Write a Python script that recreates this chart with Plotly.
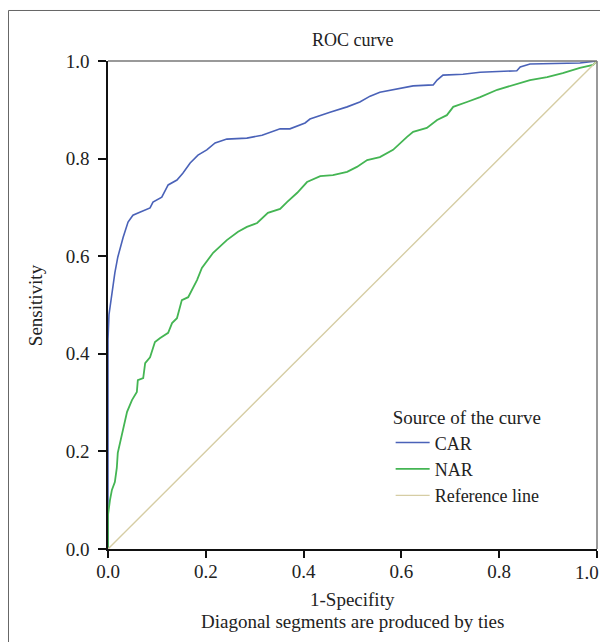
import plotly.graph_objects as go

# ---- data ----
car_fpr = [0.0, 0.0, 0.002, 0.006, 0.014, 0.020, 0.031, 0.041, 0.051, 0.065, 0.086, 0.092,
           0.110, 0.123, 0.141, 0.153, 0.168, 0.184, 0.202, 0.219, 0.243, 0.284, 0.315,
           0.352, 0.372, 0.403, 0.413, 0.454, 0.489, 0.515, 0.536, 0.556, 0.591, 0.624,
           0.665, 0.673, 0.685, 0.726, 0.761, 0.836, 0.843, 0.863, 0.965, 0.986, 1.0]
car_tpr = [0.0, 0.43, 0.48, 0.51, 0.566, 0.598, 0.639, 0.670, 0.684, 0.690, 0.699, 0.711,
           0.721, 0.746, 0.756, 0.770, 0.791, 0.807, 0.818, 0.832, 0.840, 0.842, 0.848,
           0.861, 0.861, 0.873, 0.881, 0.895, 0.906, 0.916, 0.928, 0.936, 0.943, 0.949,
           0.951, 0.961, 0.971, 0.973, 0.977, 0.980, 0.988, 0.994, 0.996, 0.998, 1.0]

nar_fpr = [0.0, 0.0, 0.004, 0.008, 0.014, 0.018, 0.020, 0.029, 0.039, 0.049, 0.059, 0.061,
           0.072, 0.076, 0.086, 0.096, 0.106, 0.123, 0.131, 0.141, 0.151, 0.164, 0.172,
           0.182, 0.192, 0.215, 0.243, 0.266, 0.284, 0.305, 0.327, 0.352, 0.366, 0.387,
           0.407, 0.434, 0.460, 0.489, 0.509, 0.530, 0.556, 0.583, 0.611, 0.624, 0.652,
           0.673, 0.693, 0.706, 0.734, 0.761, 0.796, 0.828, 0.863, 0.898, 0.930, 0.965,
           0.992, 1.0]
nar_tpr = [0.0, 0.07, 0.10, 0.121, 0.137, 0.166, 0.197, 0.238, 0.281, 0.305, 0.322, 0.346,
           0.350, 0.381, 0.393, 0.424, 0.432, 0.443, 0.463, 0.473, 0.510, 0.516, 0.531,
           0.551, 0.576, 0.607, 0.633, 0.650, 0.660, 0.668, 0.689, 0.697, 0.711, 0.730,
           0.752, 0.764, 0.766, 0.773, 0.783, 0.797, 0.803, 0.818, 0.844, 0.855, 0.863,
           0.879, 0.889, 0.906, 0.916, 0.926, 0.941, 0.951, 0.961, 0.967, 0.975, 0.986,
           0.992, 1.0]

ref_x = [0.0, 1.0]
ref_y = [0.0, 1.0]

tick_vals = [0.0, 0.2, 0.4, 0.6, 0.8, 1.0]
tick_text = ["0.0", "0.2", "0.4", "0.6", "0.8", "1.0"]

FONT = "Liberation Serif, Times New Roman, serif"
TXT = "#222222"
FS = 19

fig = go.Figure()
fig.add_trace(go.Scatter(x=car_fpr, y=car_tpr, mode="lines", name="CAR",
                         line=dict(color="#4a62b8", width=1.6)))
fig.add_trace(go.Scatter(x=nar_fpr, y=nar_tpr, mode="lines", name="NAR",
                         line=dict(color="#44b553", width=1.8)))
fig.add_trace(go.Scatter(x=ref_x, y=ref_y, mode="lines", name="Reference line",
                         line=dict(color="#d6cda4", width=1.4)))

# x tick labels: last one is placed as an annotation so it is not clipped at the edge
x_tick_text = tick_text[:-1] + [""]

fig.update_layout(
    width=600, height=634,
    margin=dict(l=100, r=11, t=53, b=93, autoexpand=False),
    paper_bgcolor="white", plot_bgcolor="white",
    font=dict(family=FONT, size=FS, color=TXT),
    showlegend=True,
    legend=dict(
        x=0.578, y=0.306, xanchor="left", yanchor="top",
        title=dict(text="Source of the curve", font=dict(size=FS, family=FONT, color=TXT)),
        font=dict(size=18, family=FONT, color=TXT),
        bgcolor="rgba(0,0,0,0)", itemwidth=34, tracegroupgap=0,
    ),
    xaxis=dict(range=[0, 1], tickvals=tick_vals, ticktext=x_tick_text,
               showgrid=False, zeroline=False, showline=True, linecolor="#111",
               linewidth=1.5, ticks="outside", ticklen=7, tickcolor="#111",
               tickwidth=1.5, tickfont=dict(size=FS), fixedrange=True,
               ticklabelstandoff=-3, automargin=False),
    yaxis=dict(range=[0, 1], tickvals=tick_vals, ticktext=tick_text,
               showgrid=False, zeroline=False, showline=True, linecolor="#111",
               linewidth=1.5, ticks="outside", ticklen=8, tickcolor="#111",
               tickwidth=1.5, tickfont=dict(size=FS), fixedrange=True,
               ticklabelstandoff=5, automargin=False),
)

fig.add_annotation(text=tick_text[-1], xref="x", yref="paper", x=tick_vals[-1], y=0,
                   yshift=-23, xshift=4, xanchor="right", yanchor="middle",
                   showarrow=False, font=dict(size=FS, family=FONT, color=TXT))

# top & right box lines (grey)
fig.add_shape(type="line", xref="paper", yref="paper", x0=0, y0=1, x1=1, y1=1,
              line=dict(color="#777777", width=1.5))
fig.add_shape(type="line", xref="paper", yref="paper", x0=1, y0=0, x1=1, y1=1,
              line=dict(color="#777777", width=1.5))
# outer figure frame (left and top)
fig.add_shape(type="line", xref="paper", yref="paper", x0=-0.2035, y0=1.1035,
              x1=1.03, y1=1.1035, line=dict(color="#666666", width=1))
fig.add_shape(type="line", xref="paper", yref="paper", x0=-0.2035, y0=1.1035,
              x1=-0.2035, y1=-0.2, line=dict(color="#666666", width=1))

# title, axis titles and footnote
fig.add_annotation(text="ROC curve", xref="paper", yref="paper", x=0.5, y=1.0,
                   yshift=21, xanchor="center", yanchor="middle", showarrow=False,
                   font=dict(size=18, family=FONT, color=TXT))
fig.add_annotation(text="Sensitivity", xref="paper", yref="paper", x=-0.149, y=0.5,
                   textangle=-90, xanchor="center", yanchor="middle", showarrow=False,
                   font=dict(size=FS, family=FONT, color=TXT))
fig.add_annotation(text="1-Specifity", xref="paper", yref="paper", x=0.5, y=0,
                   yshift=-50, xanchor="center", yanchor="middle", showarrow=False,
                   font=dict(size=FS, family=FONT, color=TXT))
fig.add_annotation(text="Diagonal segments are produced by ties", xref="paper",
                   yref="paper", x=0.5, y=0, yshift=-72, xanchor="center",
                   yanchor="middle", showarrow=False,
                   font=dict(size=FS, family=FONT, color=TXT))

fig.write_html("out.html")
